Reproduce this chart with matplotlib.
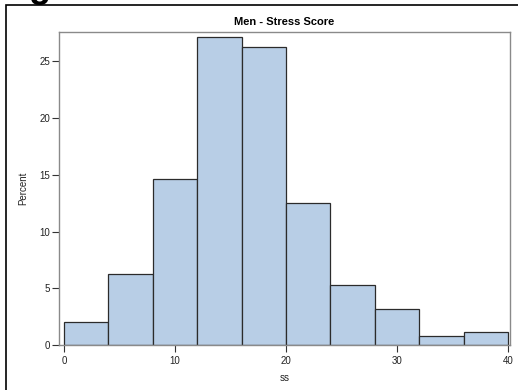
import matplotlib
matplotlib.use("Agg")
import matplotlib.pyplot as plt
from matplotlib.patches import Rectangle

plt.rcParams['font.family'] = ['Liberation Sans', 'DejaVu Sans']

# Histogram of stress score for men (percent per bin of width 4)
bin_edges = [0, 4, 8, 12, 16, 20, 24, 28, 32, 36, 40]
percent = [2.04, 6.24, 14.62, 27.16, 26.27, 12.53, 5.32, 3.20, 0.79, 1.17]
x_ticks = [0, 10, 20, 30, 40]
y_ticks = [0, 5, 10, 15, 20, 25]
title = "Men - Stress Score"
x_label = "ss"
y_label = "Percent"

W, H = 518, 390
fig = plt.figure(figsize=(W / 100, H / 100), dpi=100)

# outer graph frame (left and top edges visible)
fig.add_artist(Rectangle((6 / W, -0.1), 1.2, (H - 5) / H + 0.1,
                         transform=fig.transFigure, fill=False,
                         edgecolor='black', linewidth=1.2))
# heading glyph cut off at the top edge
fig.text(28 / W, 1 + 3 / H, "g", fontsize=26, fontweight='bold',
         color='black', ha='left', va='baseline')

ax = fig.add_axes([59 / W, 45 / H, (510 - 59) / W, (345 - 32) / H])

widths = [b - a for a, b in zip(bin_edges[:-1], bin_edges[1:])]
ax.bar(bin_edges[:-1], percent, width=widths, align='edge',
       color='#B8CEE6', edgecolor='#2b2b2b', linewidth=0.9)

ax.set_xlim(-0.45, 40.18)
ax.set_ylim(0, 27.6)
ax.set_xticks(x_ticks)
ax.set_yticks(y_ticks)
ax.tick_params(axis='both', direction='out', length=5, width=0.8,
               color='#333333', labelsize=7, labelcolor='#222222')
ax.tick_params(axis='y', pad=1.5)
ax.tick_params(axis='x', pad=3)
for s in ax.spines.values():
    s.set_color('#8a8a8a')
    s.set_linewidth(1.0)

ax.set_xlabel(x_label, fontsize=7, color='#222222', labelpad=5)
ax.set_ylabel(y_label, fontsize=7, color='#222222', labelpad=8)
ax.set_title(title, fontsize=8, fontweight='bold', color='black', pad=5)

fig.savefig("out.png", dpi=100)
